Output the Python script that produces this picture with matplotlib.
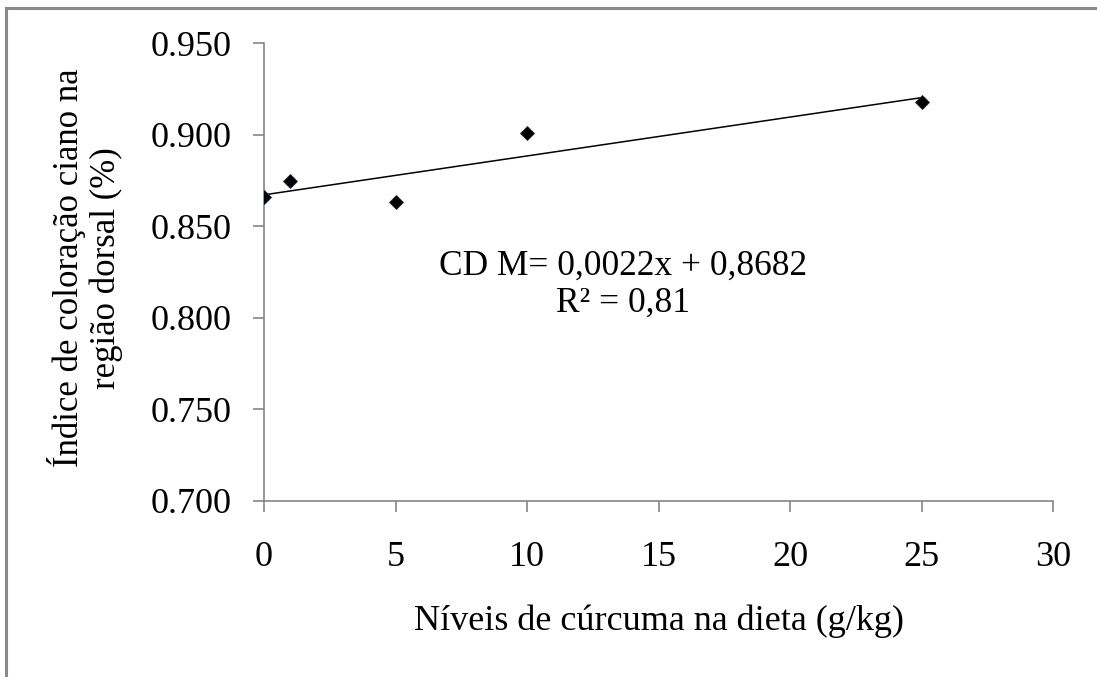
import numpy as np
import matplotlib
matplotlib.use("Agg")
import matplotlib.pyplot as plt
from matplotlib.lines import Line2D

plt.rcParams['font.family'] = ['Liberation Serif', 'DejaVu Serif']

x_levels = [0, 1, 5, 10, 25]
cd_values = [0.866, 0.875, 0.863, 0.901, 0.918]
x_ticks = [0, 5, 10, 15, 20, 25, 30]
y_ticks = [0.700, 0.750, 0.800, 0.850, 0.900, 0.950]
y_ticklabels = ["0.700", "0.750", "0.800", "0.850", "0.900", "0.950"]
x_label = "Níveis de cúrcuma na dieta (g/kg)"
y_label = "Índice de coloração ciano na\nregião dorsal (%)"
eq_text = "CD M= 0,0022x + 0,8682\nR\u00b2 = 0,81"

fig = plt.figure(figsize=(10.97, 6.77), dpi=100)
ax = fig.add_axes([264/1097, 1-500.7/677, (1053-264)/1097, (500.7-43.3)/677])

# trendline from data
coef = np.polyfit(x_levels, cd_values, 1)
xt = np.array([min(x_levels), max(x_levels)])
ax.plot(xt, np.polyval(coef, xt), color='black', lw=1.1, zorder=2)
ax.plot(x_levels, cd_values, linestyle='none', marker='D', ms=7.6,
        markerfacecolor='black', markeredgecolor='#1f2a44', markeredgewidth=0.6, zorder=3)

ax.set_xlim(0, 30)
ax.set_ylim(0.700, 0.950)
ax.set_xticks(x_ticks)
ax.set_yticks(y_ticks)
ax.set_yticklabels(y_ticklabels)
gray = '#868686'
for s in ['top', 'right']:
    ax.spines[s].set_visible(False)
for s in ['left', 'bottom']:
    ax.spines[s].set_color(gray)
    ax.spines[s].set_linewidth(1.2)
ax.tick_params(axis='both', direction='out', length=8, width=1.2, color=gray,
               labelsize=26, labelcolor='black')
ax.tick_params(axis='y', pad=15)
ax.tick_params(axis='x', pad=21)

ax.set_xlabel(x_label, fontsize=26)
ax.xaxis.set_label_coords(0.5, -0.228)
fig.text(85/1097, 1-268/677, y_label, rotation=90, ha='center', va='center',
         multialignment='center', fontsize=25, linespacing=1.1)

ax.text(13.65, 0.8179, eq_text, ha='center', va='center', fontsize=25.5,
        linespacing=1.15, multialignment='center')

# outer frame (left and top edges visible)
fig.add_artist(Line2D([5.5/1097, 5.5/1097], [0, 1-7.5/677], transform=fig.transFigure,
                      color='#8a8a8a', lw=2.2))
fig.add_artist(Line2D([5.5/1097, 1], [1-7.5/677, 1-7.5/677], transform=fig.transFigure,
                      color='#8a8a8a', lw=2.2))

fig.savefig("out.png", dpi=100)
